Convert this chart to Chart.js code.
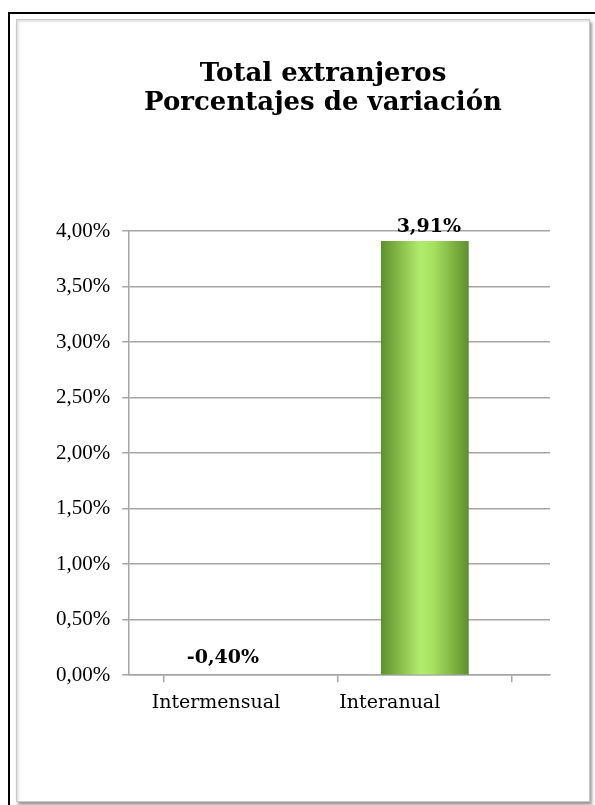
<!DOCTYPE html>
<html>
<head>
<meta charset="utf-8">
<script src="https://cdn.jsdelivr.net/npm/chart.js@4"></script>
<style>
    body { margin: 0; background: #fff; width: 595px; height: 805px; overflow: hidden; position: relative; }
    #outer { position: absolute; left: 8px; top: 12px; width: 600px; height: 800px; border: 2px solid #000; }
    #inner { position: absolute; left: 16px; top: 19px; width: 572px; height: 781px;
             border: 1px solid #c8c8c8; box-shadow: inset 2px 2px 2px #e4e4e4, 2px 3px 3px #999; background: #fff; }
    #wrap { position: absolute; left: 0; top: 0; width: 595px; height: 805px; }
    #title { position: absolute; left: 123px; top: 58px; width: 400px; text-align: center;
             font: bold 26px/29px 'DejaVu Serif', serif; color: #000; }
</style>
</head>
<body>
<div id="outer"></div>
<div id="inner"></div>
<div id="wrap"><canvas id="chart" width="595" height="805"></canvas></div>
<div id="title"></div>
<script>
// datos del grafico
var categories = ['Intermensual', 'Interanual'];
var variation = [-0.40, 3.91];
var titleLines = ['Total extranjeros', 'Porcentajes de variación'];

var serif = "'Liberation Serif', serif";
var wideSerif = "'DejaVu Serif', serif";

document.getElementById('title').innerHTML = titleLines.join('<br>');

function fmt(v) {    // 3.91 -> 3,91%
    return v.toFixed(2).replace('.', ',') + '%';
}

var barLook = {      // gradiente verde y etiquetas de valor
    id: 'barLook',
    beforeDatasetsDraw: function(chart) {
        var ctx = chart.ctx;
        chart.getDatasetMeta(0).data.forEach(function(bar) {
            var left = bar.x - bar.width / 2;
            var g = ctx.createLinearGradient(left, 0, left + bar.width, 0);
            g.addColorStop(0, '#5f8f2c');
            g.addColorStop(0.45, '#b2ec6e');
            g.addColorStop(0.6, '#a6e060');
            g.addColorStop(1, '#5f8f2c');
            bar.options.backgroundColor = g;
        });
    },
    afterDatasetsDraw: function(chart) {
        var ctx = chart.ctx;
        var yScale = chart.scales.y;
        ctx.save();
        ctx.font = 'bold 19px ' + wideSerif;
        ctx.fillStyle = '#000';
        ctx.textAlign = 'center';
        ctx.textBaseline = 'alphabetic';
        chart.getDatasetMeta(0).data.forEach(function(bar, i) {
            var v = variation[i];
            if (v < 0) {
                ctx.fillText(fmt(v), bar.x - 28, yScale.getPixelForValue(0) - 12);
            } else {
                ctx.fillText(fmt(v), bar.x + 4, bar.y - 9);
            }
        });
        ctx.restore();
    }
};

var chart = new Chart(document.getElementById('chart'), {
    type: 'bar',
    data: {
        labels: categories,
        datasets: [{
            data: variation,
            backgroundColor: '#8cc850',
            barPercentage: 0.505,
            categoryPercentage: 1
        }]
    },
    options: {
        responsive: false,
        animation: false,
        layout: { padding: { left: 44, right: 45, top: 231, bottom: 82 } },
        plugins: {
            legend: { display: false },
            tooltip: { enabled: false },
            title: { display: false }
        },
        scales: {
            y: {
                min: 0,
                max: 4,
                ticks: {
                    stepSize: 0.5,
                    color: '#000',
                    padding: 12,
                    font: { family: serif, size: 21 },
                    callback: function(v) { return fmt(v); }
                },
                grid: { color: '#a6a6a6', lineWidth: 1.5, tickLength: 7 },
                border: { color: '#a6a6a6', width: 1.5 }
            },
            x: {
                // como en Excel: el eje de categorias no ocupa todo el ancho del area
                afterBuildTicks: function(scale) {
                    scale._startValue = -0.7;
                    scale._valueRange = 2.42;
                },
                ticks: {
                    color: '#000',
                    padding: 9,
                    labelOffset: -35,
                    font: { family: wideSerif, size: 19 }
                },
                grid: { drawOnChartArea: false, color: '#a6a6a6', lineWidth: 1.5, tickLength: 7 },
                border: { color: '#a6a6a6', width: 1.5 }
            }
        }
    },
    plugins: [barLook]
});
</script>
</body>
</html>
